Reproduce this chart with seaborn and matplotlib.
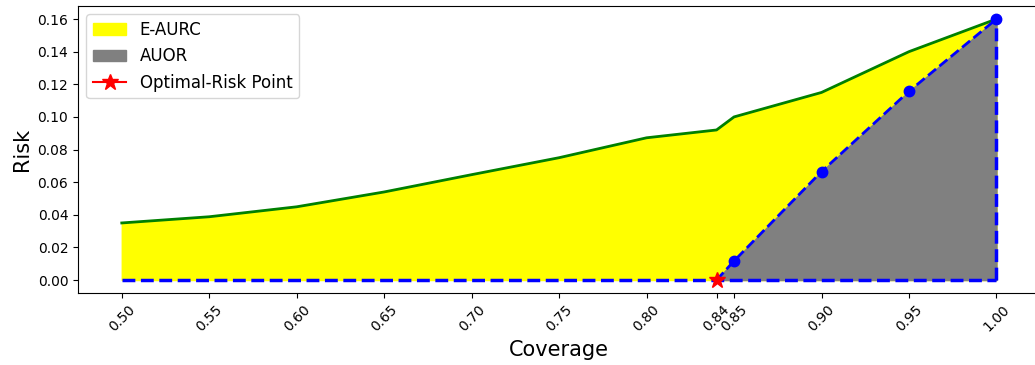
import numpy as np
import pandas as pd
import seaborn as sns
import matplotlib
matplotlib.use("Agg")
import matplotlib.pyplot as plt

# risk-coverage curve
coverage = [0.50, 0.55, 0.60, 0.65, 0.70, 0.75, 0.80, 0.84, 0.85, 0.90, 0.95, 1.00]
risk = [0.035, 0.0388, 0.0449, 0.054, 0.0646, 0.075, 0.0872, 0.092, 0.100, 0.115, 0.140, 0.160]

# optimal risk curve
opt_coverage = [0.84, 0.85, 0.90, 0.95, 1.00]
opt_risk = [0.0, 0.0117, 0.0665, 0.1157, 0.160]
opt_point = 0.84

xticks = [0.50, 0.55, 0.60, 0.65, 0.70, 0.75, 0.80, 0.84, 0.85, 0.90, 0.95, 1.00]

df = pd.DataFrame({'coverage': coverage, 'risk': risk})
df_opt = pd.DataFrame({'coverage': opt_coverage, 'risk': opt_risk})

fig, ax = plt.subplots(figsize=(10.35, 3.65), dpi=100)

ax.fill_between(df['coverage'], df['risk'], 0, color='yellow', label='E-AURC', zorder=1)
sns.lineplot(data=df, x='coverage', y='risk', color='green', linewidth=2, ax=ax, zorder=2)
ax.fill_between(df_opt['coverage'], df_opt['risk'], 0, color='gray', label='AUOR', zorder=3)

# dashed optimal curve outline
ax.plot([coverage[0], coverage[-1]], [0, 0], color='blue', linestyle='--', linewidth=2.5, zorder=4)
ax.plot([opt_coverage[-1], opt_coverage[-1]], [0, opt_risk[-1]], color='blue', linestyle='--', linewidth=2.5, zorder=4)
sns.lineplot(data=df_opt, x='coverage', y='risk', color='blue', linestyle='--', linewidth=2, ax=ax, zorder=4)
ax.plot(df_opt['coverage'][1:], df_opt['risk'][1:], 'o', color='blue', markersize=7.5, zorder=5)

ax.plot([opt_point], [0], marker='*', color='red', markersize=12, label='Optimal-Risk Point', zorder=6)

ax.set_xlim(0.475, 1.025)
ax.set_xticks(xticks)
ax.set_xticklabels([f'{t:.2f}' for t in xticks], rotation=45)
ax.set_xlabel('Coverage', fontsize=15)
ax.set_ylabel('Risk', fontsize=15)
ax.legend(loc='upper left', fontsize=12)

# the original figure is cropped at the right edge
ax.spines['right'].set_visible(False)
fig.subplots_adjust(left=0.0754, right=1.005, top=0.9836, bottom=0.197)
plt.savefig('out.png', dpi=100)
